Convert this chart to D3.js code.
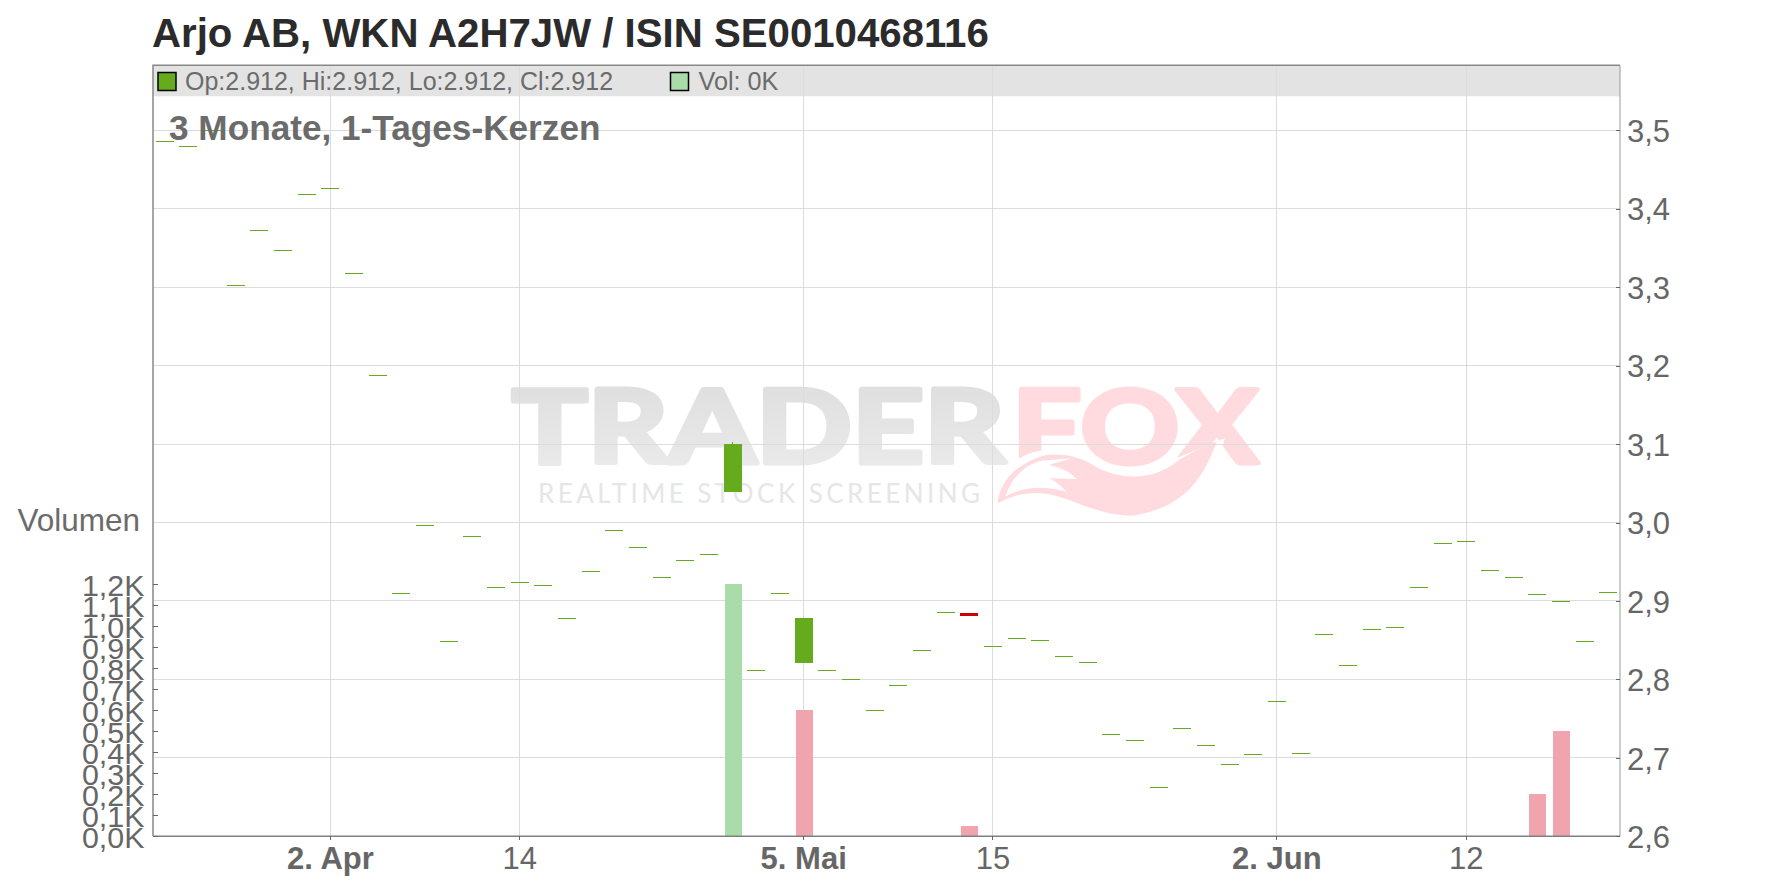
<!DOCTYPE html>
<html><head><meta charset="utf-8">
<script src="https://cdn.jsdelivr.net/npm/d3@7/dist/d3.min.js"></script>
<style>
html,body{margin:0;padding:0;background:#fff;overflow:hidden}
text{font-family:"Liberation Sans",Arial,sans-serif}
.tick line{stroke:#666;shape-rendering:crispEdges}
</style></head><body><svg id="c" width="1776" height="888"></svg>
<script>
const title = "Arjo AB, WKN A2H7JW / ISIN SE0010468116";
const subtitle = "3 Monate, 1-Tages-Kerzen";
const legendPrice = "Op:2.912, Hi:2.912, Lo:2.912, Cl:2.912";
const legendVolume = "Vol: 0K";
const volumeTitle = "Volumen";
const priceTicks = [2.6,2.7,2.8,2.9,3.0,3.1,3.2,3.3,3.4,3.5];
const volumeTicks = [0,0.1,0.2,0.3,0.4,0.5,0.6,0.7,0.8,0.9,1.0,1.1,1.2];
const dateTickIndex = [7,15,27,35,47,55];
const dateTickLabels = ["2. Apr","14","5. Mai","15","2. Jun","12"];
const dateTickBold = [true,false,true,false,true,false];
const opens = [3.486,3.480,3.500,3.303,3.373,3.348,3.4185,3.426,3.318,3.188,2.910,2.9965,2.849,2.9825,2.918,2.924,2.920,2.878,2.938,2.990,2.9685,2.930,2.952,2.9595,3.039,2.8116,2.910,2.821,2.8116,2.800,2.7606,2.7925,2.838,2.8856,2.8847,2.842,2.8524,2.850,2.8295,2.822,2.730,2.7224,2.6625,2.7377,2.716,2.692,2.7045,2.772,2.7058,2.8575,2.818,2.864,2.8665,2.918,2.9735,2.976,2.940,2.930,2.9085,2.8996,2.8486,2.912];
const closes = [3.486,3.480,3.500,3.303,3.373,3.348,3.4185,3.426,3.318,3.188,2.910,2.9965,2.849,2.9825,2.918,2.924,2.920,2.878,2.938,2.990,2.9685,2.930,2.952,2.9595,3.100,2.8116,2.910,2.878,2.8116,2.800,2.7606,2.7925,2.838,2.8856,2.881,2.842,2.8524,2.850,2.8295,2.822,2.730,2.7224,2.6625,2.7377,2.716,2.692,2.7045,2.772,2.7058,2.8575,2.818,2.864,2.8665,2.918,2.9735,2.976,2.940,2.930,2.9085,2.8996,2.8486,2.912];
const wickIndex = [24];
const wickHigh = [3.103];
const volumes = [0,0,0,0,0,0,0,0,0,0,0,0,0,0,0,0,0,0,0,0,0,0,0,0,1.2,0,0,0.6,0,0,0,0,0,0,0.05,0,0,0,0,0,0,0,0,0,0,0,0,0,0,0,0,0,0,0,0,0,0,0,0.2,0.5,0,0];
const volumeUp = [24];

const svg = d3.select("#c");
const L=153,R=1620,T=65.3,B=836.3;
const x = d3.scaleBand().domain(d3.range(opens.length)).range([L,R]);
const y = d3.scaleLinear().domain([2.6,3.5]).range([B,130.3]);
const v = d3.scaleLinear().domain([0,1.2]).range([B,584.3]);
const comma = f => d => f(d).replace(".",",");
const GREEN="#66aa1e", RED="#cc0000", VGREEN="#aadcaa", VRED="#efa4ae";

// legend band
svg.append("rect").attr("x",L).attr("y",T).attr("width",R-L).attr("height",31).attr("fill","#e3e3e3");

// watermark
const wm = svg.append("g");
const defs = svg.append("defs");
const g1 = defs.append("linearGradient").attr("id","wmg").attr("x1",0).attr("x2",0).attr("y1",0).attr("y2",1);
g1.append("stop").attr("offset",0).attr("stop-color","#dcdcdc");
g1.append("stop").attr("offset",1).attr("stop-color","#ececec");
wm.append("text").text("TRADER").attr("x",512).attr("y",463).attr("font-size",102).attr("font-weight",700)
  .attr("textLength",493).attr("lengthAdjust","spacingAndGlyphs").attr("fill","url(#wmg)")
  .attr("stroke","url(#wmg)").attr("stroke-width",5).attr("stroke-linejoin","round").style("font-family","Lato,'Open Sans',sans-serif");
wm.append("text").text("FOX").attr("x",1012).attr("y",463).attr("font-size",102).attr("font-weight",700)
  .attr("textLength",246).attr("lengthAdjust","spacingAndGlyphs").attr("fill","#ffdbe0")
  .attr("stroke","#ffdbe0").attr("stroke-width",5).attr("stroke-linejoin","round").style("font-family","Lato,'Open Sans',sans-serif");
wm.append("text").text("REALTIME STOCK SCREENING").attr("x",538).attr("y",503).attr("font-size",26)
  .attr("textLength",442).attr("lengthAdjust","spacing").attr("fill","#e6e6e6").style("font-family","Lato,'Open Sans',sans-serif");
const tail = wm.append("g").attr("transform","translate(490,370) scale(0.5102,0.3333)");
tail.append("path").attr("fill","#fff")
  .attr("d","M985,405 C985,330 1020,250 1090,240 C1150,235 1185,275 1205,290 C1240,315 1300,325 1345,265 L1440,205 L1400,460 L985,460 Z");
tail.append("path").attr("fill","#ffdbe0")
  .attr("d","M995,400 C997,340 1030,280 1090,255 C1150,245 1180,285 1200,300 C1240,325 1300,335 1350,270 C1385,240 1400,225 1425,215 C1400,310 1370,410 1260,437 C1200,437 1160,400 1110,378 C1070,360 1030,370 995,400 Z");
tail.append("path").attr("fill","#fff")
  .attr("d","M1010,380 C1020,330 1045,285 1080,272 L1140,265 L1095,285 C1125,295 1140,310 1150,327 L1095,325 C1110,335 1120,350 1130,365 C1085,345 1045,350 1010,380 Z");

// grid
svg.append("g").selectAll("line").data(dateTickIndex).join("line")
  .attr("x1",d=>x(d)+x.bandwidth()/2).attr("x2",d=>x(d)+x.bandwidth()/2).attr("y1",T).attr("y2",B)
  .attr("stroke","#dcdcdc").attr("shape-rendering","crispEdges");
svg.append("g").selectAll("line").data(priceTicks.filter(d=>d>2.6)).join("line")
  .attr("x1",L).attr("x2",R).attr("y1",d=>y(d)).attr("y2",d=>y(d))
  .attr("stroke","#dcdcdc").attr("shape-rendering","crispEdges");

// volume bars
svg.append("g").selectAll("rect").data(volumes.map((d,i)=>({d,i})).filter(e=>e.d>0)).join("rect")
  .attr("x",e=>x(e.i)+x.bandwidth()/2-8).attr("width",17)
  .attr("y",e=>v(e.d)).attr("height",e=>B-v(e.d))
  .attr("fill",e=>volumeUp.includes(e.i)?VGREEN:VRED).attr("shape-rendering","crispEdges");

// candles
svg.append("g").selectAll("line").data(wickIndex).join("line")
  .attr("x1",d=>x(d)+x.bandwidth()/2).attr("x2",d=>x(d)+x.bandwidth()/2)
  .attr("y1",(d,i)=>y(wickHigh[i])).attr("y2",d=>y(closes[d]))
  .attr("stroke",GREEN).attr("shape-rendering","crispEdges");
svg.append("g").selectAll("rect").data(d3.range(opens.length)).join("rect")
  .attr("x",i=>x(i)+x.bandwidth()/2-9).attr("width",18)
  .attr("y",i=>y(Math.max(opens[i],closes[i])))
  .attr("height",i=>Math.max(1,Math.abs(y(opens[i])-y(closes[i]))))
  .attr("fill",i=>closes[i]<opens[i]?RED:GREEN).attr("shape-rendering","crispEdges");

// frame
svg.append("path").attr("d",`M${L},${B}V${T}H${R}`).attr("fill","none").attr("stroke","#888").attr("stroke-width",1.5);
svg.append("path").attr("d",`M${R},${T}V${B}`).attr("fill","none").attr("stroke","#999").attr("stroke-width",1);
svg.append("path").attr("d",`M${L},${B}H${R}`).attr("fill","none").attr("stroke","#808080").attr("stroke-width",1.5);

// axes
const ax = svg.append("g").attr("transform",`translate(${R},0)`)
  .call(d3.axisRight(y).tickValues(priceTicks).tickFormat(comma(d3.format(".1f"))).tickSize(-4.5).tickPadding(7));
const av = svg.append("g").attr("transform",`translate(${L},0)`)
  .call(d3.axisLeft(v).tickValues(volumeTicks).tickFormat(d=>comma(d3.format(".1f"))(d)+"K").tickSize(-4.5).tickPadding(8.5));
const ab = svg.append("g").attr("transform",`translate(0,${B})`)
  .call(d3.axisBottom(x).tickValues(dateTickIndex).tickFormat(d=>dateTickLabels[dateTickIndex.indexOf(d)]).tickSize(3.5).tickPadding(9));
[ax,av,ab].forEach(a=>{a.select(".domain").remove();a.attr("font-family",null).attr("font-size",null);a.selectAll("text").attr("font-size",31).attr("fill","#666");});
av.selectAll("text").attr("font-size",30.4).attr("dy","0.37em");
ax.selectAll("text").attr("dy","0.36em");
ab.selectAll("text").attr("dy",null).attr("y",33)
  .attr("font-weight",d=>dateTickBold[dateTickIndex.indexOf(d)]?700:400);

// texts
svg.append("text").text(title).attr("x",152).attr("y",47).attr("font-size",40.2).attr("font-weight",700).attr("fill","#2b2b2b");
svg.append("text").text(subtitle).attr("x",169).attr("y",140).attr("font-size",35.2).attr("font-weight",700).attr("fill","#6b6b6b");
svg.append("text").text(legendPrice).attr("x",185).attr("y",90).attr("font-size",25).attr("fill","#6b6b6b");
svg.append("text").text(legendVolume).attr("x",698.5).attr("y",90).attr("font-size",25.2).attr("fill","#6b6b6b");
svg.append("text").text(volumeTitle).attr("x",140).attr("y",531).attr("text-anchor","end").attr("font-size",31.5).attr("fill","#6b6b6b");
svg.append("rect").attr("x",158).attr("y",72.5).attr("width",18).attr("height",18).attr("fill",GREEN).attr("stroke","#000").attr("stroke-width",1.5);
svg.append("rect").attr("x",670.5).attr("y",72.5).attr("width",18).attr("height",18).attr("fill",VGREEN).attr("stroke","#000").attr("stroke-width",1.5);
</script></body></html>
